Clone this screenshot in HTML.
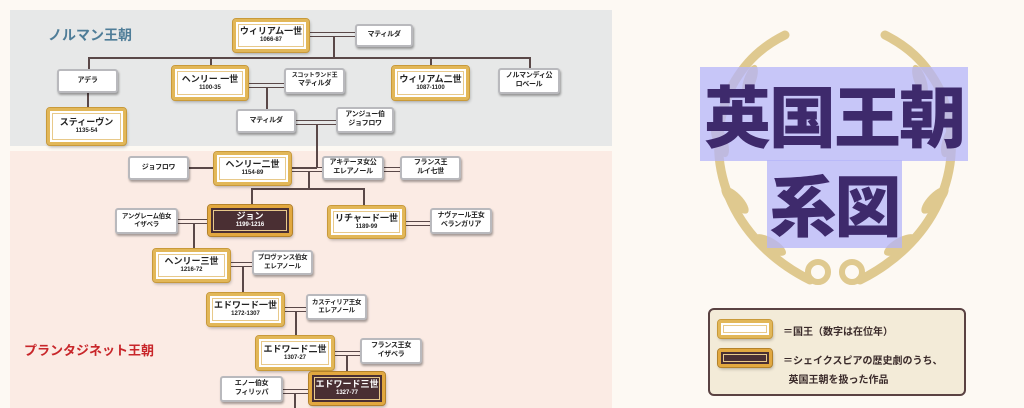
<!DOCTYPE html>
<html><head><meta charset="utf-8"><style>
body{margin:0;width:1024px;height:408px;overflow:hidden;background:#fdf9f3;font-family:"Liberation Sans","Noto Sans CJK JP",sans-serif;position:relative}
.p{position:absolute}
.n,.k,.d{position:absolute;box-sizing:border-box;display:flex;flex-direction:column;align-items:center;justify-content:center;font-weight:bold;text-align:center;line-height:1.25;white-space:nowrap}
.n{background:#fff;border:2px solid #b9b9bd;border-radius:3px;box-shadow:1px 2px 2px rgba(0,0,0,.35);font-size:7px;color:#222;letter-spacing:-0.3px}
.k{background:#fff;border:3px solid #e2b758;outline:1px solid #c99a3a;border-radius:3px;box-shadow:1px 2px 3px rgba(0,0,0,.3);font-size:9px;color:#222}
.k::after,.d::after{content:"";position:absolute;left:2px;right:2px;top:2px;bottom:2px;border:1px solid #e8c98a}
.d{background:#4a2f33;border:3px solid #e2a83f;outline:1px solid #b4822a;border-radius:3px;box-shadow:1px 2px 3px rgba(0,0,0,.3);font-size:9px;color:#fff}
.k small,.d small{font-size:6px;display:block}
.h{position:absolute;height:1.5px;background:#5a4848}
.v{position:absolute;width:1.5px;background:#5a4848}
.m{position:absolute;height:3px;border-top:1.5px solid #5a4848;border-bottom:1.5px solid #5a4848}
</style></head><body>
<div class="p" style="left:10px;top:10px;width:602px;height:136px;background:#e7e8e8"></div>
<div class="p" style="left:10px;top:151px;width:602px;height:257px;background:#fbebe4"></div>
<div class="p" style="left:48px;top:25px;font-size:14px;font-weight:bold;color:#4f7d98">ノルマン王朝</div>
<div class="p" style="left:24px;top:340px;font-size:13px;font-weight:bold;color:#c8262a">プランタジネット王朝</div>

<div class="m" style="left:308px;top:32px;width:48px"></div>
<div class="v" style="left:333px;top:36px;height:22px"></div>
<div class="h" style="left:88px;top:57px;width:442px"></div>
<div class="v" style="left:88px;top:57px;height:12px"></div>
<div class="v" style="left:210px;top:57px;height:10px"></div>
<div class="v" style="left:430px;top:57px;height:10px"></div>
<div class="v" style="left:529px;top:57px;height:12px"></div>
<div class="v" style="left:87px;top:92px;height:18px"></div>
<div class="m" style="left:248px;top:83px;width:37px"></div>
<div class="v" style="left:266px;top:87px;height:22px"></div>
<div class="m" style="left:296px;top:120px;width:41px"></div>
<div class="v" style="left:316px;top:124px;height:44px"></div>
<div class="h" style="left:158px;top:167px;width:159px"></div>
<div class="m" style="left:291px;top:167px;width:32px"></div>
<div class="m" style="left:384px;top:167px;width:17px"></div>
<div class="v" style="left:308px;top:171px;height:18px"></div>
<div class="h" style="left:251px;top:188px;width:113px"></div>
<div class="v" style="left:251px;top:188px;height:17px"></div>
<div class="v" style="left:363px;top:188px;height:19px"></div>
<div class="m" style="left:178px;top:219px;width:30px"></div>
<div class="v" style="left:193px;top:223px;height:26px"></div>
<div class="m" style="left:405px;top:221px;width:26px"></div>
<div class="m" style="left:230px;top:262px;width:23px"></div>
<div class="v" style="left:242px;top:266px;height:27px"></div>
<div class="m" style="left:284px;top:307px;width:23px"></div>
<div class="v" style="left:295px;top:311px;height:25px"></div>
<div class="m" style="left:334px;top:351px;width:27px"></div>
<div class="v" style="left:346px;top:355px;height:18px"></div>
<div class="m" style="left:283px;top:389px;width:26px"></div>
<div class="v" style="left:294px;top:393px;height:15px"></div>

<div class="k" style="left:233px;top:19px;width:76px;height:33px">ウィリアム一世<small>1066-87</small></div>
<div class="n" style="left:355px;top:24px;width:58px;height:23px">マティルダ</div>
<div class="n" style="left:57px;top:69px;width:61px;height:24px">アデラ</div>
<div class="k" style="left:172px;top:66px;width:76px;height:34px">ヘンリー 一世<small>1100-35</small></div>
<div class="n" style="left:284px;top:68px;width:61px;height:26px"><span style="font-size:6px">スコットランド王</span>マティルダ</div>
<div class="k" style="left:392px;top:66px;width:77px;height:34px">ウィリアム二世<small>1087-1100</small></div>
<div class="n" style="left:498px;top:68px;width:62px;height:26px">ノルマンディ公<br>ロベール</div>
<div class="k" style="left:47px;top:108px;width:79px;height:37px">スティーヴン<small>1135-54</small></div>
<div class="n" style="left:236px;top:109px;width:60px;height:24px">マティルダ</div>
<div class="n" style="left:336px;top:107px;width:58px;height:26px">アンジュー伯<br>ジョフロワ</div>
<div class="n" style="left:128px;top:156px;width:61px;height:24px">ジョフロワ</div>
<div class="k" style="left:214px;top:152px;width:77px;height:33px">ヘンリー二世<small>1154-89</small></div>
<div class="n" style="left:322px;top:156px;width:62px;height:24px">アキテーヌ女公<br>エレアノール</div>
<div class="n" style="left:400px;top:156px;width:61px;height:24px">フランス王<br>ルイ七世</div>
<div class="n" style="left:115px;top:208px;width:63px;height:26px;font-size:6.5px">アングレーム伯女<br>イザベラ</div>
<div class="d" style="left:208px;top:205px;width:84px;height:31px">ジョン<small>1199-1216</small></div>
<div class="k" style="left:328px;top:206px;width:77px;height:32px">リチャード一世<small>1189-99</small></div>
<div class="n" style="left:430px;top:208px;width:62px;height:26px">ナヴァール王女<br>ベランガリア</div>
<div class="k" style="left:153px;top:249px;width:77px;height:33px">ヘンリー三世<small>1216-72</small></div>
<div class="n" style="left:252px;top:250px;width:61px;height:25px;font-size:6.5px">プロヴァンス伯女<br>エレアノール</div>
<div class="k" style="left:207px;top:293px;width:77px;height:33px">エドワード一世<small>1272-1307</small></div>
<div class="n" style="left:306px;top:294px;width:61px;height:26px;font-size:6.5px">カスティリア王女<br>エレアノール</div>
<div class="k" style="left:256px;top:336px;width:78px;height:34px">エドワード二世<small>1307-27</small></div>
<div class="n" style="left:360px;top:338px;width:62px;height:26px">フランス王女<br>イザベラ</div>
<div class="n" style="left:220px;top:376px;width:63px;height:26px">エノー伯女<br>フィリッパ</div>
<div class="d" style="left:309px;top:372px;width:76px;height:33px">エドワード三世<small>1327-77</small></div>

<svg class="p" style="left:690px;top:20px" width="290" height="270" viewBox="0 0 290 270">
<g fill="none" stroke="#dfc98f" stroke-width="9" stroke-linecap="round">
<path d="M120 260 C40 220 10 140 40 70 C55 40 75 25 95 15"/>
<path d="M170 260 C250 220 280 140 250 70 C235 40 215 25 195 15"/>
</g>
<g fill="#dfc98f">
<ellipse cx="30" cy="120" rx="7" ry="18" transform="rotate(-20 30 120)"/>
<ellipse cx="260" cy="120" rx="7" ry="18" transform="rotate(20 260 120)"/>
<ellipse cx="45" cy="180" rx="7" ry="18" transform="rotate(-45 45 180)"/>
<ellipse cx="245" cy="180" rx="7" ry="18" transform="rotate(45 245 180)"/>
<ellipse cx="80" cy="225" rx="7" ry="18" transform="rotate(-60 80 225)"/>
<ellipse cx="210" cy="225" rx="7" ry="18" transform="rotate(60 210 225)"/>
<ellipse cx="60" cy="60" rx="6" ry="16" transform="rotate(20 60 60)"/>
<ellipse cx="230" cy="60" rx="6" ry="16" transform="rotate(-20 230 60)"/>
</g>
<circle cx="128" cy="252" r="10" fill="none" stroke="#dfc98f" stroke-width="6"/>
<circle cx="162" cy="252" r="10" fill="none" stroke="#dfc98f" stroke-width="6"/>
</svg>
<div class="p" style="left:700px;top:67px;width:268px;height:94px;background:rgba(180,180,250,.75)"></div>
<div class="p" style="left:767px;top:160px;width:135px;height:88px;background:rgba(180,180,250,.75)"></div>
<div class="p" style="left:696px;top:72px;width:276px;text-align:center;font-size:67px;font-weight:900;line-height:84px;color:#3e2a6c;font-family:'Noto Sans CJK JP',sans-serif;letter-spacing:-2px">英国王朝</div>
<div class="p" style="left:757px;top:160px;width:155px;text-align:center;font-size:67px;font-weight:900;line-height:86px;color:#3e2a6c;font-family:'Noto Sans CJK JP',sans-serif;letter-spacing:-2px">系図</div>

<div class="p" style="left:708px;top:308px;width:258px;height:88px;background:#f3ebd8;border:2px solid #5a4242;border-radius:6px;box-sizing:border-box"></div>
<div class="k" style="left:718px;top:320px;width:54px;height:18px"></div>
<div class="d" style="left:718px;top:349px;width:54px;height:18px"></div>
<div class="p" style="left:783px;top:323px;font-size:10px;font-weight:bold;color:#3a2a2a">＝国王（数字は在位年）</div>
<div class="p" style="left:783px;top:352px;font-size:10px;font-weight:bold;color:#3a2a2a;line-height:19px">＝シェイクスピアの歴史劇のうち、<br>&nbsp;&nbsp;英国王朝を扱った作品</div>
</body></html>
